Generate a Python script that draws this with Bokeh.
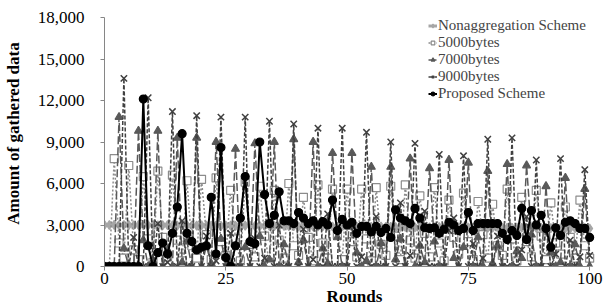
from bokeh.plotting import figure
from bokeh.models import Range1d, FixedTicker, NumeralTickFormatter, Legend, LegendItem
from bokeh.embed import file_html
from bokeh.resources import INLINE

rounds = list(range(101))

nonaggregation = [
    3000, 3000, 3010, 2990, 3000, 2990, 2980, 3000, 2990, 2980,
    2990, 2970, 2980, 2990, 2970, 2960, 2980, 2970, 2960, 2950,
    2970, 2960, 2950, 2960, 2940, 2950, 2960, 2940, 2930, 2950,
    2940, 2930, 2920, 2940, 2930, 2920, 2910, 2930, 2920, 2910,
    2900, 2920, 2910, 2900, 2890, 2910, 2900, 2890, 2880, 2900,
    2890, 2880, 2870, 2890, 2880, 2870, 2860, 2880, 2870, 2860,
    2850, 2870, 2860, 2850, 2840, 2860, 2850, 2840, 2830, 2850,
    2840, 2830, 2820, 2840, 2830, 2820, 2810, 2830, 2820, 2810,
    2800, 2820, 2810, 2800, 2790, 2810, 2800, 2790, 2780, 2800,
    2790, 2780, 2770, 2790, 2780, 2770, 2760, 2780, 2770, 2760,
    2750,
]

bytes5000 = [
    0, 0, 7800, 1700, 600, 7300, 1200, 500, 6500, 2000,
    300, 6900, 2100, 700, 6600, 1900, 400, 6200, 1500, 600,
    6300, 2300, 500, 6400, 1800, 800, 5500, 2000, 400, 6100,
    1600, 700, 5800, 2200, 300, 5500, 1900, 600, 6000, 1500,
    800, 5000, 2100, 400, 5900, 1700, 600, 5600, 2300, 500,
    5600, 1800, 700, 5600, 2000, 400, 5700, 1600, 800, 5800,
    2200, 500, 5900, 1900, 600, 5100, 2400, 700, 5700, 1700,
    400, 4800, 2100, 900, 5300, 1800, 500, 4700, 2300, 600,
    4500, 1500, 800, 5600, 2000, 400, 5000, 1800, 700, 5500,
    2200, 500, 4600, 1700, 900, 4300, 2100, 600, 4800, 1500,
    600,
]

bytes7000 = [
    0, 0, 0, 10800, 1300, 0, 0, 9800, 1900, 0,
    400, 9800, 0, 1200, 0, 9300, 300, 1800, 0, 9300,
    0, 1500, 200, 9000, 2000, 0, 300, 8500, 0, 1400,
    0, 8900, 2200, 0, 500, 9000, 0, 1600, 0, 9200,
    300, 1900, 0, 9000, 0, 1300, 200, 8200, 2100, 0,
    0, 8200, 1000, 0, 400, 7200, 0, 1700, 0, 7200,
    500, 2000, 0, 7800, 0, 1500, 300, 7100, 1800, 0,
    0, 7700, 600, 0, 1400, 7500, 0, 2100, 0, 6900,
    200, 1500, 0, 7400, 0, 1100, 600, 7300, 2300, 0,
    0, 5800, 1000, 0, 300, 6400, 0, 1600, 0, 5600,
    0,
]

bytes9000 = [
    0, 0, 0, 0, 13600, 0, 2100, 0, 0, 12200,
    0, 3100, 0, 300, 11200, 0, 3300, 0, 0, 10900,
    0, 2200, 0, 400, 10800, 0, 2400, 0, 0, 10800,
    0, 2000, 0, 600, 10500, 0, 3000, 0, 0, 10300,
    0, 2700, 0, 500, 10000, 0, 3800, 0, 0, 10000,
    0, 2900, 0, 700, 9700, 0, 3600, 0, 0, 9000,
    0, 4600, 0, 800, 8900, 0, 4000, 0, 0, 8100,
    0, 2600, 3500, 0, 8000, 0, 1650, 0, 600, 9200,
    0, 2200, 0, 0, 9300, 0, 1200, 3600, 0, 7700,
    0, 2800, 0, 900, 7800, 0, 1900, 0, 700, 7000,
    800,
]

proposed = [
    0, 0, 0, 0, 0, 0, 0, 0, 12100, 1500,
    0, 1000, 1700, 900, 2400, 4300, 9600, 2400, 1800, 1200,
    1400, 1500, 5000, 900, 8600, 650, 0, 1500, 3500, 6500,
    1800, 1650, 9000, 5200, 3100, 3700, 5400, 3300, 3300, 3100,
    3900, 3500, 3100, 3300, 3000, 3250, 3000, 4800, 2600, 3400,
    3000, 3200, 2400, 2900, 2900, 2500, 2900, 2450, 2750, 2100,
    4100, 3500, 3300, 3100, 4200, 3500, 2800, 2750, 2800, 2400,
    2700, 3200, 3000, 2600, 2750, 3900, 2600, 3100, 3100, 3100,
    3100, 3100, 2400, 1950, 2600, 2250, 4200, 1950, 4050, 3000,
    3700, 2750, 1400, 2800, 2250, 3200, 3300, 3100, 2750, 2750,
    2100,
]

series_names = ["Nonaggregation Scheme", "5000bytes", "7000bytes", "9000bytes", "Proposed Scheme"]
y_ticks = [0, 3000, 6000, 9000, 12000, 15000, 18000]
x_ticks = [0, 25, 50, 75, 100]

FONT = "Liberation Serif"

# frame spans the full top/right of the canvas so the legend is never clipped;
# axis lines are bounded to the data extents
W, H = 604, 308
LEFT, BOTTOM = 99, 42
Y_TOP_PX, X_RIGHT_PX = 17, 589
frame_h = H - BOTTOM
frame_w = W - LEFT
y_end = 18000 * frame_h / (frame_h - Y_TOP_PX)
x_end = 100 * frame_w / (X_RIGHT_PX - LEFT)

p = figure(width=W, height=H, output_backend="svg", toolbar_location=None,
           x_range=Range1d(0, x_end), y_range=Range1d(0, y_end),
           min_border_left=LEFT, min_border_right=0, min_border_top=0, min_border_bottom=BOTTOM)
p.outline_line_color = None
p.xgrid.visible = False
p.ygrid.visible = False

styles = [
    dict(data=nonaggregation, color="#a6a6a6", dash="solid", lw=3, marker="diamond", size=9,
         fill="#a6a6a6", mline="#a6a6a6", mlw=1.2),
    dict(data=bytes5000, color="#8c8c8c", dash="2 2", lw=1.5, marker="square", size=8,
         fill="white", mline="#8c8c8c", mlw=1.2),
    dict(data=bytes7000, color="#595959", dash="8 3", lw=1.5, marker="triangle", size=8,
         fill="#595959", mline="#595959", mlw=1.2),
    dict(data=bytes9000, color="#404040", dash="4 2", lw=1.5, marker="x", size=9,
         fill="#404040", mline="#404040", mlw=1.5),
    dict(data=proposed, color="black", dash="solid", lw=2, marker="circle", size=8,
         fill="black", mline="black", mlw=1.2),
]

items = []
for name, s in zip(series_names, styles):
    ln = p.line(rounds, s["data"], line_color=s["color"], line_dash=s["dash"], line_width=s["lw"])
    sc = p.scatter(rounds, s["data"], marker=s["marker"], size=s["size"],
                   fill_color=s["fill"], line_color=s["mline"], line_width=s["mlw"])
    items.append(LegendItem(label=name, renderers=[ln, sc]))

legend = Legend(items=items, location=(324, 164), orientation="vertical",
                border_line_color=None, background_fill_alpha=0,
                label_text_font=FONT, label_text_font_size="15px",
                glyph_width=9, glyph_height=17, label_height=17,
                spacing=0, padding=0, margin=0, label_standoff=1)
p.add_layout(legend, "center")

for ax in (p.xaxis[0], p.yaxis[0]):
    ax.axis_line_color = "#868686"
    ax.major_tick_line_color = "#868686"
    ax.minor_tick_line_color = None
    ax.major_tick_out = 4
    ax.major_tick_in = 0
    ax.major_label_text_font = FONT
    ax.major_label_text_font_size = "17px"
    ax.major_label_text_color = "black"
    ax.axis_label_text_font = FONT
    ax.axis_label_text_font_size = "17px"
    ax.axis_label_text_font_style = "bold"
    ax.axis_label_text_color = "black"

p.yaxis.ticker = FixedTicker(ticks=y_ticks)
p.yaxis.formatter = NumeralTickFormatter(format="0,0")
p.yaxis.bounds = (y_ticks[0], y_ticks[-1])
p.xaxis.ticker = FixedTicker(ticks=x_ticks)
p.xaxis.bounds = (x_ticks[0], x_ticks[-1])
p.yaxis.axis_label = "Amount of gathered data"
p.xaxis.axis_label = "Rounds"
p.xaxis.major_label_standoff = 2
p.xaxis.axis_label_standoff = 0
p.yaxis.major_label_standoff = 16
p.yaxis.axis_label_standoff = 12

open("out.html", "w").write(file_html(p, INLINE))
